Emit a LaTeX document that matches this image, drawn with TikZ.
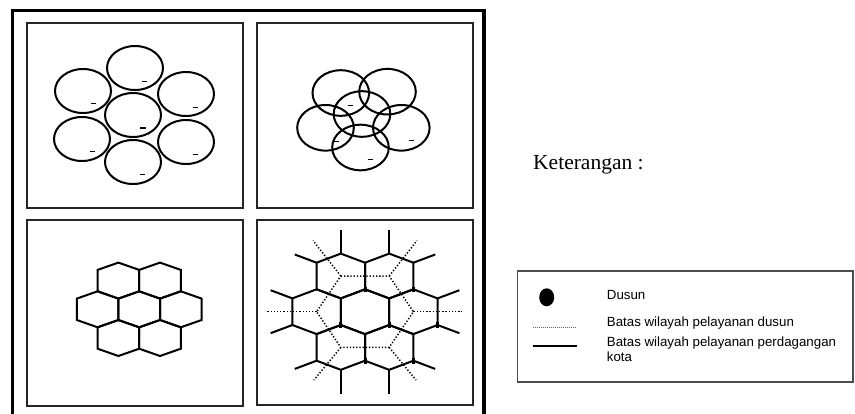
\documentclass[tikz,border=0pt]{standalone}
\usepackage{fontspec}
\setmainfont{Liberation Serif}
\newfontfamily\legfont{Liberation Sans}
\begin{document}
\begin{tikzpicture}[x=1pt,y=-1pt,
  outerframe/.style={line width=3.6pt, line cap=rect},
  panel/.style={line width=1.7pt, draw=black!85},
  ring/.style={line width=2pt},
  hexline/.style={line width=2pt, line join=miter},
  spikeline/.style={line width=2pt},
  dotline/.style={line width=1.5pt, dash pattern=on 1.3pt off 1.9pt},
  tickmark/.style={line width=3pt},
  dashmark/.style={line width=0.8pt},
  legtext/.style={anchor=base west, inner sep=0pt, font=\legfont\fontsize{13.3}{15.7}\selectfont},
]
\useasboundingbox (0,0) rectangle (855,413);

% outer frame
\draw[outerframe] (12.5,420) -- (12.5,10.5) -- (484,10.5) -- (484,420);

% panels
\draw[panel] (26.7,22.7) rectangle (242.7,207.7);
\draw[panel] (256.7,22.7) rectangle (472.7,207.7);
\draw[panel] (26.7,220) rectangle (242.7,405.7);
\draw[panel] (256.7,220) rectangle (472.7,405.2);

% panel 1: seven touching circles
\foreach \cx/\cy in {135/68, 83/91, 186/94, 133/115, 82/139, 186/142, 133/162}
  \draw[ring] (\cx,\cy) ellipse [x radius=28pt, y radius=22pt];
\foreach \mx/\my in {144/81, 93/103, 195/107, 92/151, 195/154, 142/174}
  \draw[dashmark] (\mx-2.5,\my) -- (\mx+2.5,\my);
\draw[line width=1.8pt] (140,128) -- (146,128);

% panel 2: six overlapping circles
\foreach \cx/\cy in {340.8/93, 387.5/91.7, 362/114, 325.5/127.8, 401.3/127.8, 360.5/147.5}
  \draw[ring] (\cx,\cy) ellipse [x radius=28.3pt, y radius=22.8pt];
\foreach \mx/\my in {350/105, 336/141, 411/140, 370/159}
  \draw[dashmark] (\mx-2.5,\my) -- (\mx+2.5,\my);

% panel 3: hexagon cluster
\foreach \cx/\cy in {118.4/280.6, 160/280.6, 97.6/309.3, 139.2/309.3, 180.8/309.3, 118.4/338, 160/338}
  \draw[hexline] (\cx,\cy) +(0,-18) -- +(20.8,-10.7) -- +(20.8,10.7) -- +(0,18) -- +(-20.8,10.7) -- +(-20.8,-10.7) -- cycle;

% panel 4: hexagon cluster with service boundaries
\foreach \cx/\cy in {340.8/276, 389.2/276, 316.6/311.7, 365/311.7, 413.4/311.7, 340.8/347.4, 389.2/347.4}
  \draw[hexline] (\cx,\cy) +(0,-22.4) -- +(24.2,-13.3) -- +(24.2,13.3) -- +(0,22.4) -- +(-24.2,13.3) -- +(-24.2,-13.3) -- cycle;
% spikes
\draw[spikeline] (340.8,253.6) -- (340.8,229.6);
\draw[spikeline] (389.2,253.6) -- (389.2,229.6);
\draw[spikeline] (340.8,369.8) -- (340.8,393.8);
\draw[spikeline] (389.2,369.8) -- (389.2,393.8);
\draw[spikeline] (316.6,262.7) -- (294.8,254.5);
\draw[spikeline] (413.4,262.7) -- (435.2,254.5);
\draw[spikeline] (292.4,298.4) -- (270.6,290.2);
\draw[spikeline] (437.6,298.4) -- (459.4,290.2);
\draw[spikeline] (292.4,325) -- (270.6,333.2);
\draw[spikeline] (437.6,325) -- (459.4,333.2);
\draw[spikeline] (316.6,360.7) -- (294.8,368.9);
\draw[spikeline] (413.4,360.7) -- (435.2,368.9);
% dotted service boundaries
\draw[dotline] (340.8,276) -- (389.2,276) -- (413.4,311.7) -- (389.2,347.4) -- (340.8,347.4) -- (316.6,311.7) -- cycle;
\draw[dotline] (340.8,276) -- (313,240.5);
\draw[dotline] (389.2,276) -- (417,240.5);
\draw[dotline] (316.6,311.7) -- (266.7,311.7);
\draw[dotline] (413.4,311.7) -- (462,311.7);
\draw[dotline] (340.8,347.4) -- (314,380);
\draw[dotline] (389.2,347.4) -- (416,380);
% bold ticks at junctions
\foreach \tx/\ty in {365/289.3, 413.4/289.3, 340.8/325, 389.2/325, 437.6/325, 365/360.7, 413.4/360.7}
  \draw[tickmark] (\tx,\ty-2.8) -- (\tx,\ty+2.8);

% heading
\node[anchor=base west, inner sep=0pt, font=\fontsize{21.5}{24}\selectfont] (ket) at (533,169.3) {Keterangan :};

% legend
\draw[line width=1.1pt, draw=black!70] (517.3,271) rectangle (853,382);
\fill (546.7,297.3) ellipse [x radius=7.5pt, y radius=9pt];
\draw[line width=0.9pt, dash pattern=on 1pt off 1pt, draw=black!60] (532.7,327.3) -- (576.7,327.3);
\draw[line width=1.2pt] (532.7,346) -- (576.7,346);
\node[legtext] (l1) at (606.7,299.3) {Dusun};
\node[legtext] (l2) at (606.7,326.7) {Batas wilayah pelayanan dusun};
\node[legtext] (l3) at (606.7,346) {Batas wilayah pelayanan perdagangan};
\node[legtext] (l4) at (606.7,361.7) {kota};
\end{tikzpicture}
\end{document}
